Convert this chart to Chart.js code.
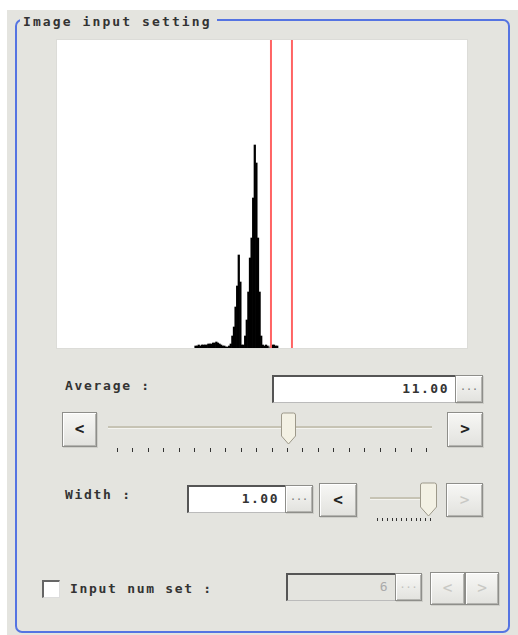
<!DOCTYPE html>
<html lang="en">
<head>
  <meta charset="UTF-8">
  <title>Image input setting</title>
  <style>
    body {
      margin: 0;
      background: #fff;
      font-family: "DejaVu Sans Mono", monospace;
      font-size: 13px;
      color: #333;
    }
    .abs { position: absolute; box-sizing: border-box; }
    #bg { left: 7px; top: 10px; width: 511px; height: 625px; background: #e4e4df; }
    #panel {
      left: 15px; top: 19px; width: 495px; height: 614px;
      border: 2px solid #5574e2; border-radius: 7px;
    }
    #title {
      left: 20px; top: 13px; padding: 0 5px 0 3px; font-weight: bold;
      background: #e4e4df; letter-spacing: 2.1px; line-height: 18px;
    }
    #plot { left: 57px; top: 40px; width: 410px; height: 308px; background: #fff; box-shadow: 0 0 0 1px #dcdcd8; }
    .label { letter-spacing: 1.7px; line-height: 16px; font-weight: bold; }
    .box {
      background: #fff; border-style: solid; border-width: 2px 1px 1px 2px;
      border-color: #555 #bbb #bbb #555; text-align: right;
      padding-right: 6px; letter-spacing: 1.5px; font-weight: bold;
    }
    .box.off { background: #e4e4df; color: #aaa; font-weight: normal; }
    .btn {
      background: linear-gradient(#f7f7f5, #e2e2de);
      border: 1px solid #8e8e8a;
      box-shadow: inset 1px 1px #fff, inset -1px -1px #b4b4b0, 1px 1px #cfcfca;
      text-align: center; font-weight: bold; font-size: 16px; color: #222;
    }
    .btn.off { color: #c8c8c4; font-weight: normal; }
    .dots { font-size: 10px; font-weight: normal; color: #777; line-height: 22px; }
    .track { height: 3px; background: #c6c3b4; border-bottom: 1px solid #f4f4f0; }
    .tick { width: 1px; height: 4px; background: #333; }
  </style>
</head>
<body>
  <div id="bg" class="abs"></div>
  <div id="panel" class="abs"></div>
  <div id="title" class="abs">Image input setting</div>

  <div id="plot" class="abs">
    <canvas id="histChart" width="410" height="308"></canvas>
  </div>

  <!-- Average -->
  <div class="abs label" style="left:65px; top:378px;">Average :</div>
  <div class="abs box" style="left:272px; top:375px; width:184px; height:28px; line-height:24px;">11.00</div>
  <div class="abs btn dots" style="left:455px; top:375px; width:28px; height:28px;">...</div>
  <div class="abs btn" style="left:62px; top:412px; width:35px; height:35px; line-height:32px;">&lt;</div>
  <div class="abs btn" style="left:447px; top:412px; width:36px; height:35px; line-height:32px;">&gt;</div>
  <div class="abs track" style="left:108px; top:426px; width:324px;"></div>
  <div id="avgTicks"></div>
  <svg class="abs" style="left:280px; top:412px;" width="17" height="33">
    <path d="M1.5 3 Q1.5 1 3.5 1 L13.5 1 Q15.5 1 15.5 3 L15.5 24 L8.5 32 L1.5 24 Z" fill="#f3f1e4" stroke="#9d998a" stroke-width="1"/>
  </svg>

  <!-- Width -->
  <div class="abs label" style="left:65px; top:487px;">Width :</div>
  <div class="abs box" style="left:187px; top:485px; width:99px; height:28px; line-height:24px;">1.00</div>
  <div class="abs btn dots" style="left:285px; top:485px; width:28px; height:28px;">...</div>
  <div class="abs btn" style="left:319px; top:483px; width:38px; height:34px; line-height:31px;">&lt;</div>
  <div class="abs track" style="left:370px; top:497px; width:60px;"></div>
  <div id="widthTicks"></div>
  <svg class="abs" style="left:419px; top:482px;" width="19" height="35">
    <path d="M1.5 3 Q1.5 1 3.5 1 L15.5 1 Q17.5 1 17.5 3 L17.5 25 L9.5 34 L1.5 25 Z" fill="#f3f1e4" stroke="#9d998a" stroke-width="1"/>
  </svg>
  <div class="abs btn off" style="left:446px; top:483px; width:37px; height:34px; line-height:31px;">&gt;</div>

  <!-- Input num set -->
  <div class="abs" style="left:42px; top:580px; width:18px; height:18px; background:#fff; border-style:solid; border-width:2px 1px 1px 2px; border-color:#666 #ddd #ddd #666;"></div>
  <div class="abs label" style="left:70px; top:581px;">Input num set :</div>
  <div class="abs box off" style="left:286px; top:573px; width:110px; height:28px; line-height:24px;">6</div>
  <div class="abs btn dots off" style="left:395px; top:573px; width:27px; height:28px; color:#c0c0bc;">...</div>
  <div class="abs btn off" style="left:430px; top:572px; width:35px; height:33px; line-height:30px;">&lt;</div>
  <div class="abs btn off" style="left:465px; top:572px; width:34px; height:33px; line-height:30px;">&gt;</div>

  <script src="https://cdn.jsdelivr.net/npm/chart.js@4"></script>
  <script>
    // histogram: 256 grey levels, only the non-empty range is listed
    const binCount = 256;
    const histStart = 86;
    const histCounts = [
      2, 2, 3, 2, 3, 3, 3, 3, 4, 4, 4, 5, 5, 6, 5, 4, 3, 2, 2,   // 86-104
      1, 1, 2,                                                   // 105-107
      4, 12, 21, 41, 62, 93, 66, 3,                               // 108-115
      3, 12, 28, 56, 90, 110, 150, 203, 185, 110, 56, 12, 3,      // 116-128
      2, 3, 2, 0, 2, 3, 3, 2, 2                                  // 129-137
    ];
    const yMax = 308;
    // red range markers (grey level)
    const markerLevels = [133.1, 146.2];

    const points = histCounts.map((v, i) => ({ x: histStart + i, y: v }));

    function buildTicks(id, left, right, top, n, h) {
      const host = document.getElementById(id);
      for (let i = 0; i < n; i++) {
        const t = document.createElement('div');
        t.className = 'abs tick';
        t.style.left = (left + (right - left) * i / (n - 1)).toFixed(1) + 'px';
        t.style.top = top + 'px';
        t.style.height = h + 'px';
        host.appendChild(t);
      }
    }
    buildTicks('avgTicks', 117, 426, 448, 21, 4);
    buildTicks('widthTicks', 377, 430, 518, 12, 3);

    const markerPlugin = {
      id: 'markers',
      afterDatasetsDraw(chart) {
        const ctx = chart.ctx;
        const xs = chart.scales.x;
        const area = chart.chartArea;
        ctx.save();
        ctx.strokeStyle = '#ff6464';
        ctx.lineWidth = 2;
        markerLevels.forEach(v => {
          const px = xs.getPixelForValue(v);
          ctx.beginPath();
          ctx.moveTo(px, area.top);
          ctx.lineTo(px, area.bottom);
          ctx.stroke();
        });
        ctx.restore();
      }
    };

    new Chart(document.getElementById('histChart'), {
      type: 'bar',
      data: {
        datasets: [{
          data: points,
          backgroundColor: '#000',
          borderWidth: 0,
          barPercentage: 1,
          categoryPercentage: 1
        }]
      },
      options: {
        responsive: false,
        animation: false,
        devicePixelRatio: 1,
        layout: { padding: 0 },
        plugins: { legend: { display: false }, tooltip: { enabled: false } },
        scales: {
          x: { type: 'linear', min: -0.5, max: binCount - 0.5, offset: false, display: false },
          y: { min: 0, max: yMax, display: false }
        }
      },
      plugins: [markerPlugin]
    });
  </script>
</body>
</html>
